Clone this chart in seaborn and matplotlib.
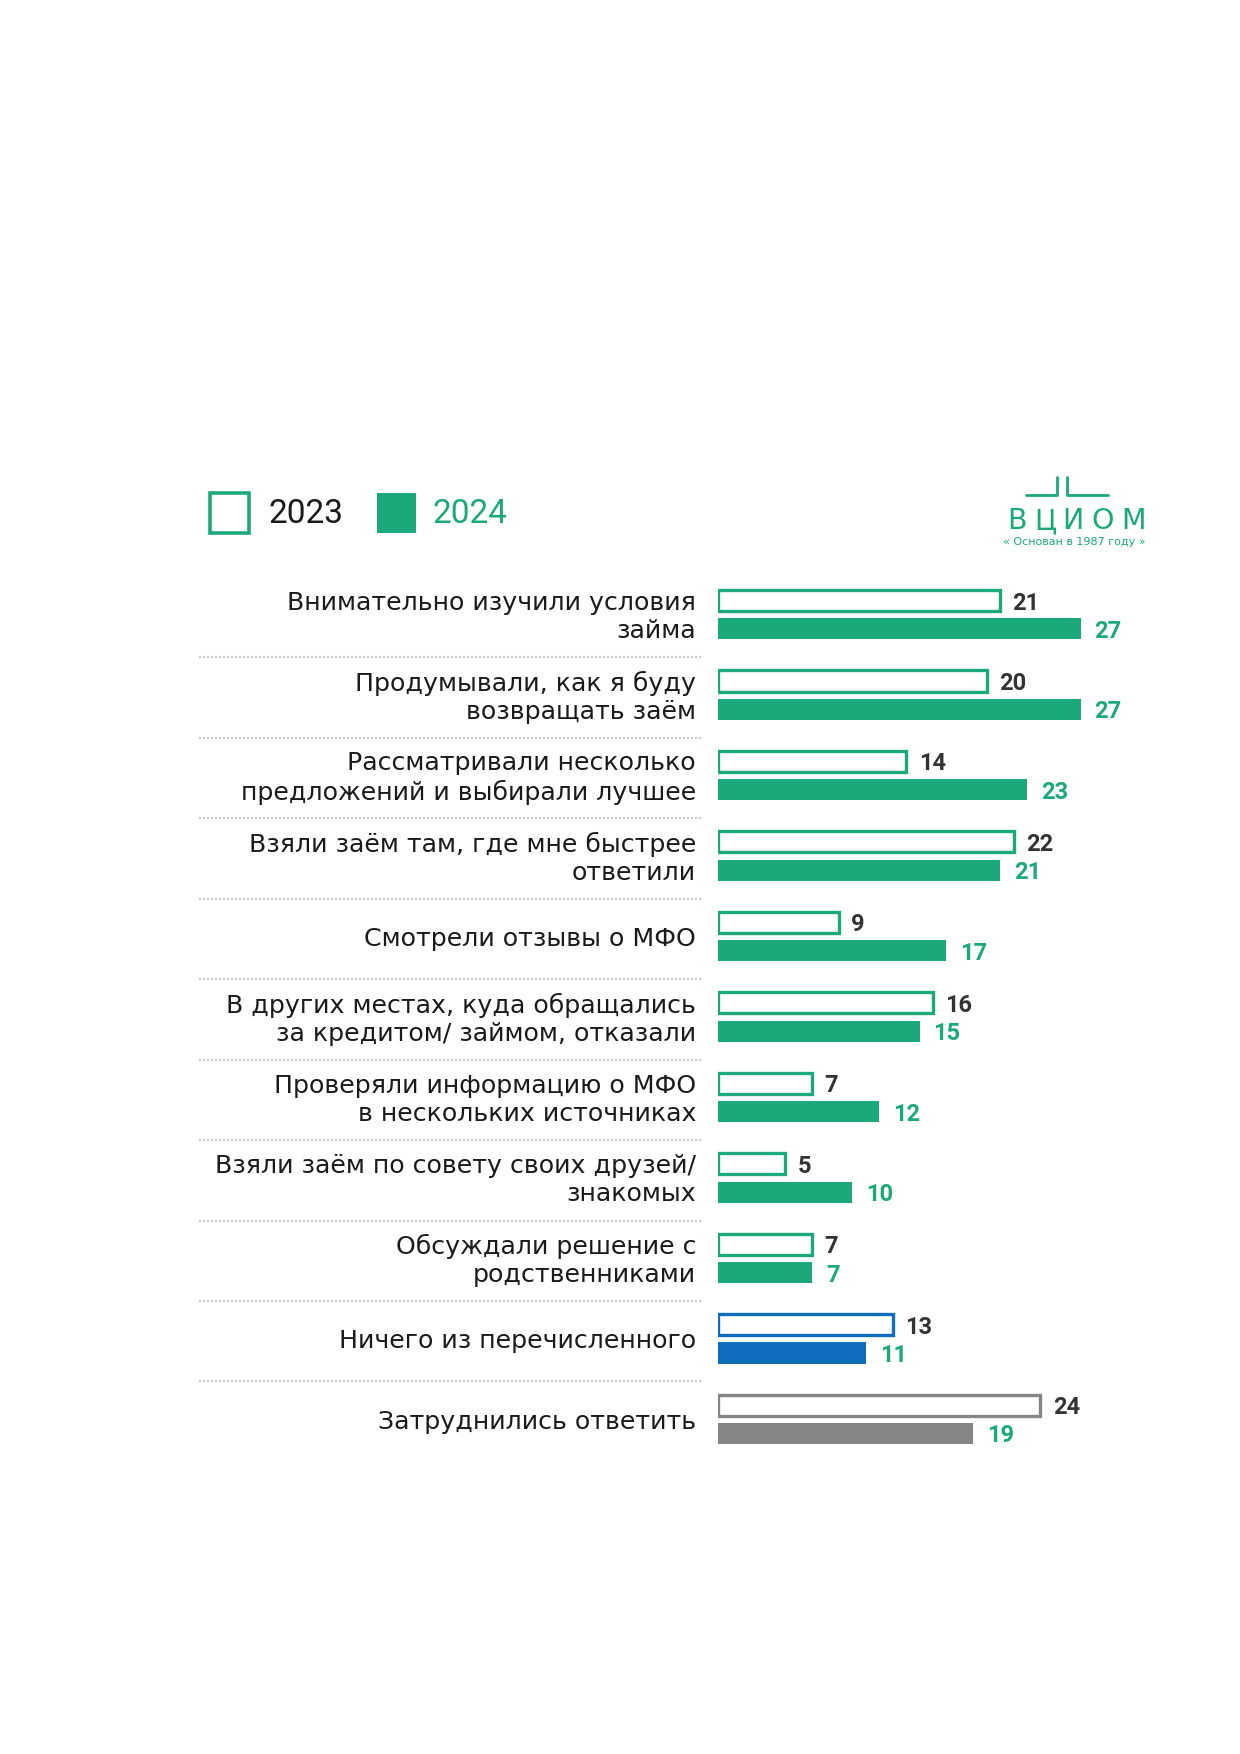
import matplotlib
matplotlib.use("Agg")
import matplotlib.pyplot as plt
import matplotlib.transforms as mtransforms
from matplotlib.patches import Rectangle
import seaborn as sns
import pandas as pd

categories = [
    "Внимательно изучили условия\nзайма",
    "Продумывали, как я буду\nвозвращать заём",
    "Рассматривали несколько\nпредложений и выбирали лучшее",
    "Взяли заём там, где мне быстрее\nответили",
    "Смотрели отзывы о МФО",
    "В других местах, куда обращались\nза кредитом/ займом, отказали",
    "Проверяли информацию о МФО\nв нескольких источниках",
    "Взяли заём по совету своих друзей/\nзнакомых",
    "Обсуждали решение с\nродственниками",
    "Ничего из перечисленного",
    "Затруднились ответить",
]
values_2023 = [21, 20, 14, 22, 9, 16, 7, 5, 7, 13, 24]
values_2024 = [27, 27, 23, 21, 17, 15, 12, 10, 7, 11, 19]
years = ["2023", "2024"]

GREEN = "#1ba97b"
BLUE = "#0f6dbf"
GRAY = "#858585"
row_colors = [GREEN] * 9 + [BLUE, GRAY]

df = pd.DataFrame({
    "cat": categories * 2,
    "year": [years[0]] * len(categories) + [years[1]] * len(categories),
    "val": values_2023 + values_2024,
})

sns.set_theme(style="white")
plt.rcParams["font.family"] = ["DejaVu Sans"]

W, H = 1240, 1754
fig = plt.figure(figsize=(W / 100, H / 100), dpi=100)
fig.patch.set_facecolor("white")

ax_left, ax_right = 718, 1121
ax_top, ax_bot = 574.5, 1459.5
ax = fig.add_axes([ax_left / W, 1 - ax_bot / H, (ax_right - ax_left) / W, (ax_bot - ax_top) / H])

sns.barplot(data=df, x="val", y="cat", hue="year", hue_order=years, order=categories,
            orient="h", width=0.704, gap=0.256, errorbar=None, legend=False,
            palette=[GREEN, GREEN], ax=ax)

ax.set_xlim(0, 30)
ax.set_ylim(len(categories) - 0.5, -0.5)
ax.axis("off")

c23, c24 = ax.containers[0], ax.containers[1]
for i, p in enumerate(c23):
    p.set_facecolor("white")
    p.set_edgecolor(row_colors[i])
    p.set_linewidth(2.4)
    p.set_zorder(3)
    ax.annotate(f"{int(values_2023[i])}", xy=(p.get_width(), p.get_y() + p.get_height() / 2),
                xytext=(9, 0), textcoords="offset points", va="center_baseline", ha="left",
                fontsize=17, fontweight="bold", family=["Roboto", "DejaVu Sans"],
                color="#333333", annotation_clip=False)
for i, p in enumerate(c24):
    p.set_facecolor(row_colors[i])
    p.set_edgecolor("none")
    p.set_linewidth(0)
    ax.annotate(f"{int(values_2024[i])}", xy=(p.get_width(), p.get_y() + p.get_height() / 2),
                xytext=(10, 0), textcoords="offset points", va="center_baseline", ha="left",
                fontsize=17, fontweight="bold", family=["Roboto", "DejaVu Sans"],
                color=GREEN, annotation_clip=False)

# row labels and separators
blend = mtransforms.blended_transform_factory(fig.transFigure, ax.transData)
for i, lab in enumerate(categories):
    fig.text(696 / W, i + 0.03, lab, transform=blend, ha="right", va="center",
             fontsize=18.2, color="#1a1a1a", linespacing=1.2, multialignment="right")
for i in range(len(categories) - 1):
    ax.plot([199 / W, 703 / W], [i + 0.53, i + 0.53], transform=blend, color="#cdcdcd",
            lw=1.6, ls=(0, (1, 0.8)), clip_on=False)

# legend
def px(x, y):
    return x / W, 1 - y / H

fig.patches.append(Rectangle(px(210, 533), 39 / W, 40 / H, transform=fig.transFigure,
                             facecolor="white", edgecolor=GREEN, lw=2.6))
fig.text(*px(269, 514), years[0], ha="left", va="center", fontsize=24,
         family=["Roboto", "DejaVu Sans"], color="#1a1a1a")
fig.patches.append(Rectangle(px(377, 533), 39 / W, 40 / H, transform=fig.transFigure,
                             facecolor=GREEN, edgecolor="none"))
fig.text(*px(432, 514), years[1], ha="left", va="center", fontsize=24,
         family=["Roboto", "DejaVu Sans"], color=GREEN)

# logo
fig.add_artist(plt.Line2D([1026 / W, 1057 / W, 1057 / W], [1 - 495 / H, 1 - 495 / H, 1 - 477 / H],
                          transform=fig.transFigure, color=GREEN, lw=2))
fig.add_artist(plt.Line2D([1067 / W, 1067 / W, 1108 / W], [1 - 477 / H, 1 - 495 / H, 1 - 495 / H],
                          transform=fig.transFigure, color=GREEN, lw=2))
logo_letters = ["В", "Ц", "И", "О", "М"]
logo_x = [1017, 1045, 1073, 1103, 1133]
for ch, lx in zip(logo_letters, logo_x):
    fig.text(*px(lx, 521), ch, ha="center", va="center", fontsize=20.5,
             family=["DejaVu Sans"], color=GREEN)
fig.text(*px(1074, 542), "« Основан в 1987 году »", ha="center", va="center", fontsize=8,
         color=GREEN)

fig.savefig("out.png", dpi=100, facecolor="white")
